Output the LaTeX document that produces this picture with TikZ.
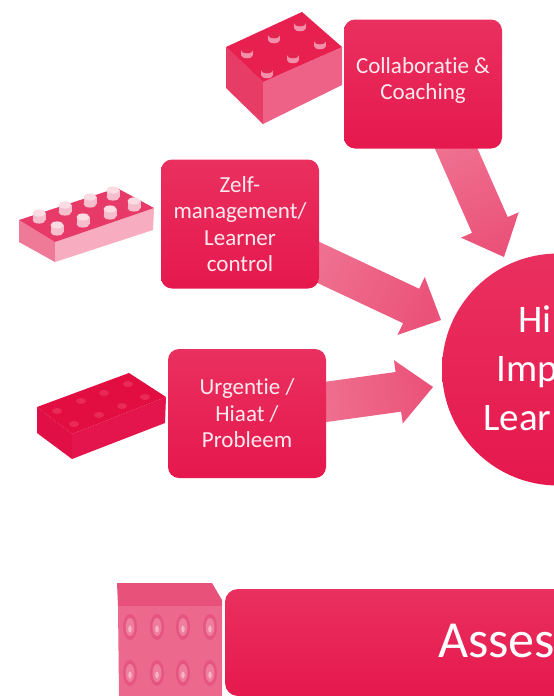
\documentclass[tikz,border=0pt]{standalone}
\usepackage{fontspec}
\setmainfont{Carlito}[Ligatures=NoCommon]
\usetikzlibrary{calc,backgrounds}
\definecolor{boxtop}{HTML}{E9305F}
\definecolor{boxbot}{HTML}{E6184D}
\definecolor{arrowstart}{HTML}{EF7392}
\definecolor{arrowend}{HTML}{EB5279}
\definecolor{bOneL}{HTML}{E63C66}
\definecolor{bOneR}{HTML}{EE6288}
\definecolor{bOneT}{HTML}{E82050}
\definecolor{bOneS}{HTML}{E2244F}
\definecolor{bOneU}{HTML}{F28FAA}
\definecolor{bTwoL}{HTML}{EE7A98}
\definecolor{bTwoR}{HTML}{F8ACC0}
\definecolor{bTwoT}{HTML}{E83A68}
\definecolor{bTwoS}{HTML}{F6BECD}
\definecolor{bTwoU}{HTML}{FBDCE4}
\definecolor{bThreeL}{HTML}{E01046}
\definecolor{bThreeR}{HTML}{E4144C}
\definecolor{bThreeT}{HTML}{E20E42}
\definecolor{bThreeS}{HTML}{E92A58}
\definecolor{bFourT}{HTML}{E8527A}
\definecolor{bFourF}{HTML}{EC688C}
\definecolor{bFourA}{HTML}{E65580}
\definecolor{bFourB}{HTML}{EE7E9C}
\definecolor{bFourC}{HTML}{F6B4C6}
\tikzset{
  box/.style={rounded corners=11pt,top color=boxtop,bottom color=boxbot,inner sep=0pt,outer sep=0pt,
    minimum width=158pt,minimum height=129pt,text=white!90!boxtop,align=center,font=\fontsize{23pt}{26.5pt}\selectfont},
  hub/.style={circle,top color=boxtop,bottom color=boxbot,inner sep=0pt,outer sep=0pt,minimum size=232pt},
  bigtext/.style={anchor=base west,inner sep=0pt,text=white,font=\fontsize{39pt}{46pt}\selectfont},
  hugetext/.style={anchor=base west,inner sep=0pt,text=white,font=\fontsize{52pt}{60pt}\selectfont}
}
% block arrow: start, tip, shaft width, head width, head length, shading angle
\newcommand{\blockarrow}[6]{%
  \coordinate (hb) at ($(#2)!#5pt!(#1)$);
  \shade[top color=arrowstart,bottom color=arrowend,shading angle=#6]
    ($(#1)!#3pt/2!90:(#2)$) -- ($(hb)!#3pt/2!-90:(#1)$) -- ($(hb)!#4pt/2!-90:(#1)$) -- (#2)
    -- ($(hb)!#4pt/2!90:(#1)$) -- ($(hb)!#3pt/2!90:(#1)$) -- ($(#1)!#3pt/2!-90:(#2)$) -- cycle;
}
% stud: x, y, rx, height, body colour, top colour
\newcommand{\legostud}[6]{%
  \fill[#5] (#1,#2) ellipse[x radius=#3,y radius=#3*0.55];
  \fill[#5] (#1-#3,#2-#4) rectangle (#1+#3,#2);
  \fill[#6] (#1,#2-#4) ellipse[x radius=#3,y radius=#3*0.55];
}
\begin{document}
\begin{tikzpicture}[x=1pt,y=-1pt]
\useasboundingbox (0,0) rectangle (554,696);
\clip (0,0) rectangle (554,696);

% hub, bar and text boxes
\node[hub] (hubc) at (558,369.5) {};
\node[box] (collab) at (423,84) {Collaboratie \&\\Coaching\rule[-11pt]{0pt}{11pt}};
\node[box] (zelf) at (240,224) {Zelf-\\management/\\Learner\\control};
\node[box] (urg) at (247,413.5) {Urgentie /\\Hiaat /\\Probleem};
\node[box,minimum width=400pt,minimum height=107pt,rounded corners=13pt,anchor=north west] (bar) at (225,589) {};

\node[bigtext] (hi) at (518,332) {Hi};
\node[bigtext] (imp) at (496,381) {Imp};
\node[bigtext] (lear) at (483,430) {Lear};
\node[hugetext] (asses) at (438,657) {Asses};

% block arrows, starting behind their boxes
\coordinate (a1t) at (504,257);
\coordinate (a2t) at (441,320);
\coordinate (a3t) at (433,387);
\coordinate (a1s) at ($($(collab.south)!.42!(collab.south east)$)!-20pt!(a1t)$);
\coordinate (a2s) at ($($(zelf.east)!.6!(zelf.south east)$)!-20pt!(a2t)$);
\coordinate (a3s) at ($($(urg.east)!.18!(urg.north east)$)!-20pt!(a3t)$);
\begin{scope}[on background layer]
\fill[white] (0,0) rectangle (554,696);
\blockarrow{a1s}{a1t}{39}{63}{35}{25}
\blockarrow{a2s}{a2t}{38}{64}{33}{65}
\blockarrow{a3s}{a3t}{40}{64}{35}{98}
\end{scope}

% brick 1
\fill[bOneL] (226,47) -- (263,82) -- (263,124) -- (226,88) -- cycle;
\fill[bOneR] (263,82) -- (342,47) -- (342,85) -- (263,124) -- cycle;
\fill[bOneT] (226,47) -- (302,12) -- (342,47) -- (263,82) -- cycle;
\foreach \x/\y in {300/28,274/40,247/55,320/46,293/60,267/75}
  {\legostud{\x}{\y}{6}{5}{bOneU}{bOneS}}

% brick 2
\fill[bTwoL] (19,220) -- (55,242) -- (55,262) -- (19,242) -- cycle;
\fill[bTwoR] (55,242) -- (154,208) -- (153,230) -- (55,262) -- cycle;
\fill[bTwoT] (19,220) -- (117,188) -- (154,208) -- (55,242) -- cycle;
\foreach \x/\y in {113/197,90/204,65/212,39/220,134/208,110/216,83/224,57/232}
  {\legostud{\x}{\y}{6.5}{7}{bTwoS}{bTwoU}}

% brick 3
\fill[bThreeL] (37,407) -- (72,434) -- (72,459) -- (37,433) -- cycle;
\fill[bThreeR] (72,434) -- (166,397) -- (165,423) -- (72,459) -- cycle;
\fill[bThreeT] (37,407) -- (129,373) -- (166,397) -- (72,434) -- cycle;
\foreach \x/\y in {57/411,81/401,104/393,128/384,74/424,99/415,122/406,145/397}
  \fill[bThreeS] (\x,\y) ellipse[x radius=5,y radius=3];

% brick 4
\fill[bFourT] (117,583) -- (212,583) -- (222,600) -- (222,606) -- (118,606) -- cycle;
\fill[bFourF] (118,606) -- (222,606) -- (222,696) -- (119,696) -- cycle;
\foreach \x in {130,157,183,210} \foreach \y in {627,673} {
  \fill[bFourA] (\x,\y) ellipse[x radius=7,y radius=13];
  \fill[bFourB] (\x,\y) ellipse[x radius=4.5,y radius=9];
  \fill[bFourC] (\x,\y+2) ellipse[x radius=1.8,y radius=3.5];
}
\end{tikzpicture}
\end{document}
